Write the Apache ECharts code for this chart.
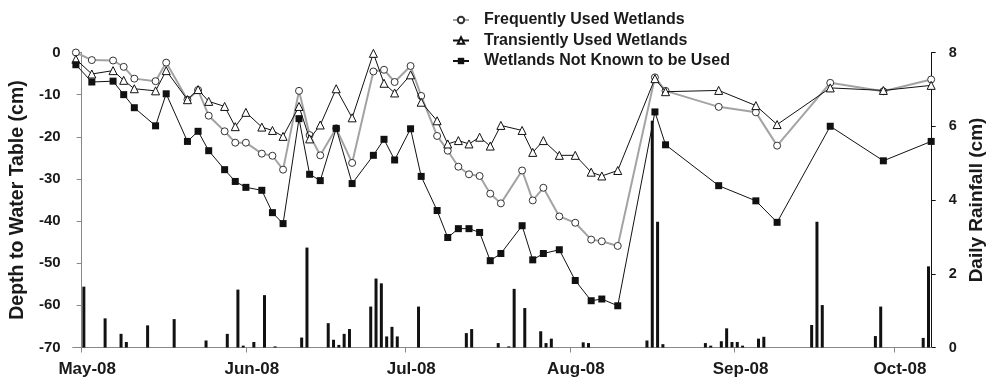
<!DOCTYPE html>
<html><head><meta charset="utf-8">
<script src="https://cdn.jsdelivr.net/npm/echarts@6/dist/echarts.min.js"></script>
<style>html,body{margin:0;padding:0;background:#fff}#c{width:1000px;height:381px}</style>
</head><body><div id="c"></div>
<script>
// ---- data ----
const sampleDates = ['2008-04-30','2008-05-03','2008-05-07','2008-05-09','2008-05-11','2008-05-15','2008-05-17','2008-05-21','2008-05-23','2008-05-25','2008-05-28','2008-05-30','2008-06-01','2008-06-04','2008-06-06','2008-06-08','2008-06-11','2008-06-13','2008-06-15','2008-06-18','2008-06-21','2008-06-25','2008-06-27','2008-06-29','2008-07-02','2008-07-04','2008-07-07','2008-07-09','2008-07-11','2008-07-13','2008-07-15','2008-07-17','2008-07-19','2008-07-23','2008-07-25','2008-07-27','2008-07-30','2008-08-02','2008-08-05','2008-08-07','2008-08-10','2008-08-17','2008-08-19','2008-08-29','2008-09-05','2008-09-09','2008-09-19','2008-09-29','2008-10-08'];
const frequentlyUsed = [0,-1.8,-1.9,-3.4,-6.2,-6.8,-2.4,-11.2,-8.9,-15.0,-18.7,-21.4,-21.4,-24.0,-24.5,-27.8,-9.1,-19.6,-24.4,-18.0,-26.2,-4.5,-4.1,-7.0,-3.2,-10.3,-19.8,-23.3,-27.1,-28.9,-29.3,-33.5,-35.8,-28.0,-35.1,-32.1,-38.9,-40.4,-44.4,-44.8,-45.9,-5.9,-9.1,-12.9,-14.2,-22.1,-7.2,-9.2,-6.4];
const transientlyUsed = [-1.6,-5.1,-4.3,-6.6,-8.6,-9.1,-4.3,-11.2,-8.8,-11.6,-12.8,-17.6,-14.2,-17.7,-18.5,-19.9,-12.8,-20.5,-17.2,-8.6,-15.5,-0.2,-7.3,-9.6,-5.3,-11.8,-16.2,-21.7,-20.9,-21.7,-20.1,-22.2,-17.3,-18.5,-23.7,-20.9,-24.4,-24.4,-28.4,-29.3,-28.0,-6.2,-9.3,-9.0,-12.6,-17.1,-8.4,-9.0,-7.8];
const notKnownUsed = [-2.9,-7.0,-6.8,-10.0,-13.1,-17.4,-9.8,-21.1,-18.7,-23.3,-27.8,-30.6,-32.0,-32.7,-38.0,-40.6,-15.7,-28.9,-30.4,-18.0,-31.1,-24.4,-20.6,-25.5,-18.1,-29.4,-37.5,-43.9,-41.8,-41.8,-42.7,-49.4,-47.7,-41.1,-49.2,-47.7,-46.8,-54.1,-58.9,-58.5,-60.1,-14.1,-21.9,-31.6,-35.2,-40.3,-17.5,-25.7,-21.1];
const rainDates = ['2008-05-01','2008-05-05','2008-05-08','2008-05-09','2008-05-13','2008-05-18','2008-05-24','2008-05-28','2008-05-30','2008-05-31','2008-06-02','2008-06-04','2008-06-06','2008-06-11','2008-06-12','2008-06-16','2008-06-17','2008-06-18','2008-06-19','2008-06-20','2008-06-24','2008-06-25','2008-06-26','2008-06-27','2008-06-28','2008-06-29','2008-07-03','2008-07-12','2008-07-13','2008-07-18','2008-07-20','2008-07-21','2008-07-23','2008-07-26','2008-07-27','2008-07-28','2008-08-03','2008-08-04','2008-08-15','2008-08-16','2008-08-17','2008-08-18','2008-08-26','2008-08-27','2008-08-29','2008-08-30','2008-08-31','2008-09-01','2008-09-02','2008-09-05','2008-09-06','2008-09-15','2008-09-16','2008-09-17','2008-09-27','2008-09-28','2008-10-06','2008-10-07'];
const rainfall = [1.65,0.79,0.37,0.15,0.60,0.77,0.19,0.37,1.57,0.05,0.15,1.42,0.03,0.27,2.71,0.66,0.21,0.07,0.37,0.50,1.11,1.87,1.74,0.30,0.56,0.30,1.11,0.39,0.50,0.12,0.03,1.59,1.07,0.44,0.12,0.24,0.14,0.12,0.19,6.15,3.41,0.09,0.12,0.05,0.17,0.52,0.15,0.15,0.05,0.24,0.29,0.61,3.41,1.15,0.31,1.11,0.26,2.2];
const monthTicks = ['2008-05-01','2008-06-01','2008-07-01','2008-08-01','2008-09-01','2008-10-01'];
const monthLabels = ['May-08','Jun-08','Jul-08','Aug-08','Sep-08','Oct-08'];
const depthTicks = [0,-10,-20,-30,-40,-50,-60,-70];
const rainTicks = [0,2,4,6,8];
const seriesNames = ['Frequently Used Wetlands','Transiently Used Wetlands','Wetlands Not Known to be Used'];

// ---- helpers ----
function dayNum(s){const p=s.split('-').map(Number);return (Date.UTC(p[0],p[1]-1,p[2])-Date.UTC(2008,4,1))/864e5;}
const pts = vals => sampleDates.map((d,i)=>[dayNum(d), vals[i]]);
const rainPts = rainDates.map((d,i)=>[dayNum(d)+0.5, rainfall[i]]);
const tickDays = monthTicks.map(dayNum);
const FONT = '"Liberation Sans", Arial, sans-serif';
const INK = '#1a1a1a';

const chart = echarts.init(document.getElementById('c'), null, {renderer:'canvas'});
chart.setOption({
  animation:false,
  backgroundColor:'#fff',
  textStyle:{fontFamily:FONT},
  grid:{left:72.7, right:68.3, top:52.5, bottom:33.5, containLabel:false},
  legend:{
    orient:'vertical', left:447, top:7, itemWidth:16, itemHeight:8, itemGap:4.5,
    data:seriesNames,
    textStyle:{fontFamily:FONT, fontSize:16, fontWeight:'bold', color:INK, padding:[0,0,0,10]}
  },
  xAxis:{
    type:'value', min:-1.6, max:160.1,
    axisLine:{onZero:false, lineStyle:{color:'#888', width:1}},
    axisTick:{show:true, length:5, customValues:tickDays, lineStyle:{color:'#888'}},
    axisLabel:{customValues:tickDays, fontFamily:FONT, fontSize:17, fontWeight:'bold', color:INK, margin:13,
      padding:[0,0,0,12],
      formatter:v=>{const i=tickDays.indexOf(v);return i>=0?monthLabels[i]:'';}},
    splitLine:{show:false}
  },
  yAxis:[{
    type:'value', min:-70, max:0, interval:10, position:'left',
    name:'Depth to Water Table (cm)', nameLocation:'middle', nameRotate:90, nameGap:42,
    nameTextStyle:{fontFamily:FONT, fontSize:19.5, fontWeight:'bold', color:INK},
    axisLine:{show:true, lineStyle:{color:'#888'}},
    axisTick:{show:true, length:4.5, lineStyle:{color:'#888'}},
    axisLabel:{fontFamily:FONT, fontSize:15, fontWeight:'bold', color:INK, margin:12},
    splitLine:{show:false}
  },{
    type:'value', min:0, max:8, interval:2, position:'right',
    name:'Daily Rainfall (cm)', nameLocation:'middle', nameRotate:90, nameGap:34,
    nameTextStyle:{fontFamily:FONT, fontSize:19, fontWeight:'bold', color:INK},
    axisLine:{show:true, lineStyle:{color:'#111'}},
    axisTick:{show:true, length:4, lineStyle:{color:'#111'}},
    axisLabel:{fontFamily:FONT, fontSize:14.5, fontWeight:'bold', color:INK, margin:17},
    splitLine:{show:false}
  }],
  series:[
    {name:'Daily Rainfall', type:'bar', yAxisIndex:1, data:rainPts, barWidth:3,
      itemStyle:{color:'#111'}, z:1, silent:true},
    {name:seriesNames[0], type:'line', data:pts(frequentlyUsed), symbol:'circle', symbolSize:7,
      lineStyle:{color:'#a3a3a3', width:2}, itemStyle:{color:'#fff', borderColor:'#333', borderWidth:1}, z:3},
    {name:seriesNames[1], type:'line', data:pts(transientlyUsed), symbol:'triangle', symbolSize:8,
      lineStyle:{color:'#111', width:1}, itemStyle:{color:'#fff', borderColor:'#111', borderWidth:1}, z:4},
    {name:seriesNames[2], type:'line', data:pts(notKnownUsed), symbol:'rect', symbolSize:7,
      lineStyle:{color:'#111', width:1}, itemStyle:{color:'#111', borderColor:'#111', borderWidth:0}, z:5}
  ]
});
</script></body></html>
